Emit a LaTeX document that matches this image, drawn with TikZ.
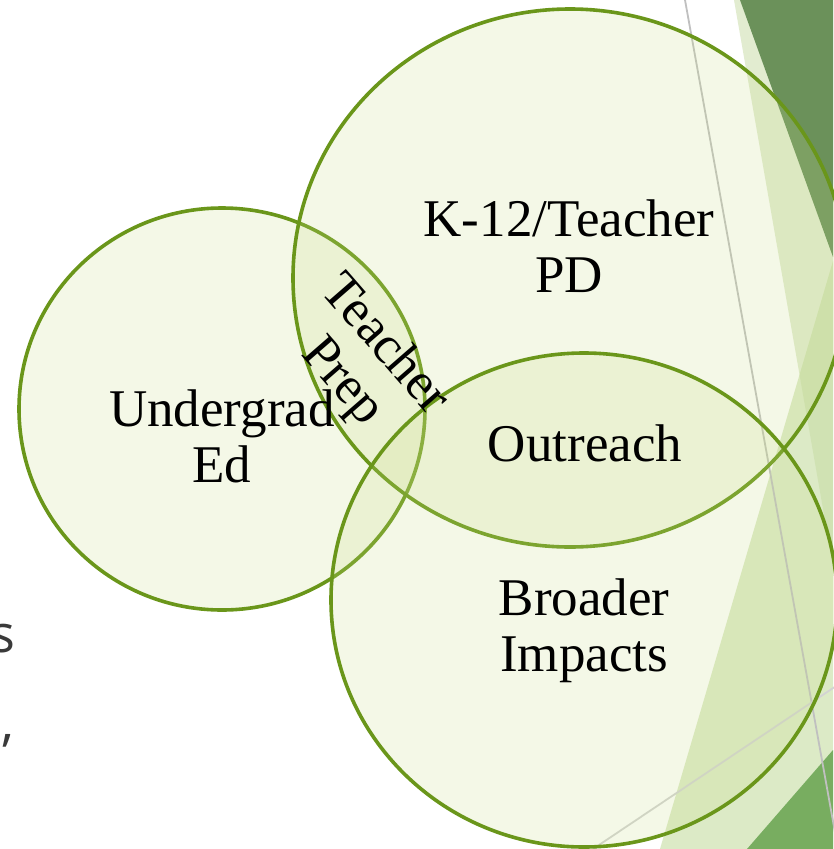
\documentclass[tikz,border=0pt]{standalone}
\usepackage{fontspec}
\setmainfont{Liberation Serif}
\newfontfamily\slidesans{Open Sans}
\definecolor{vennline}{HTML}{6A961A}
\definecolor{vennfill}{HTML}{C8DC87}
\definecolor{facetdark}{HTML}{6B915A}
\definecolor{facetlight}{HTML}{E2ECD0}
\definecolor{facetmid}{HTML}{C5DCA0}
\definecolor{facetgreen}{HTML}{78AD60}
\definecolor{rulegray}{HTML}{C0C0C0}
\definecolor{bodytext}{HTML}{3A3A3A}
\tikzset{
  venn/.style={draw=vennline, line width=3.6pt, fill=vennfill, fill opacity=0.2},
  vennlabel/.style={align=center, inner sep=0pt, font=\fontsize{53}{56}\selectfont},
  cuttext/.style={anchor=base east, inner sep=0pt, text=bodytext, font=\slidesans\fontsize{52}{60}\selectfont},
}
\begin{document}
\begin{tikzpicture}[x=1pt, y=-1pt]
  \useasboundingbox (0,0) rectangle (833,849);
  % slide background
  \fill[white] (0,0) rectangle (833,849);
  \fill[facetlight] (734,0) -- (833,0) -- (833,566) -- cycle;
  \fill[facetdark] (740,0) -- (833,0) -- (833,257) -- cycle;
  \fill[facetmid, opacity=0.6] (660,849) -- (833,261) -- (833,849) -- cycle;
  \fill[facetgreen] (747,849) -- (833,750) -- (833,849) -- cycle;
  \draw[rulegray, line width=1.8pt] (685,0) -- (838,849);
  \draw[rulegray!70, line width=1.8pt] (593,849) -- (860,670);
  % the three circles
  \draw[venn] (222,409) ellipse[x radius=203pt, y radius=201pt];
  \draw[venn] (570,278) ellipse[x radius=277pt, y radius=269pt];
  \draw[venn] (584,600) ellipse[x radius=253pt, y radius=247pt];
  % labels
  \node[vennlabel] (undergrad) at (222,436) {Undergrad\\Ed};
  \node[vennlabel] (k12) at (569,246) {K-12/Teacher\\PD};
  \node[vennlabel, anchor=base] (outreach) at (585,461) {Outreach};
  \node[vennlabel] (broader) at (584,631) {Broader\\Impacts};
  \node[vennlabel, rotate=-49] (prep) at (363,364) {Teacher\\Prep};
  % cut-off body text
  \node[cuttext] (cuts) at (16,652) {s};
  \node[cuttext] (cutcomma) at (14,740) {,};
\end{tikzpicture}
\end{document}
